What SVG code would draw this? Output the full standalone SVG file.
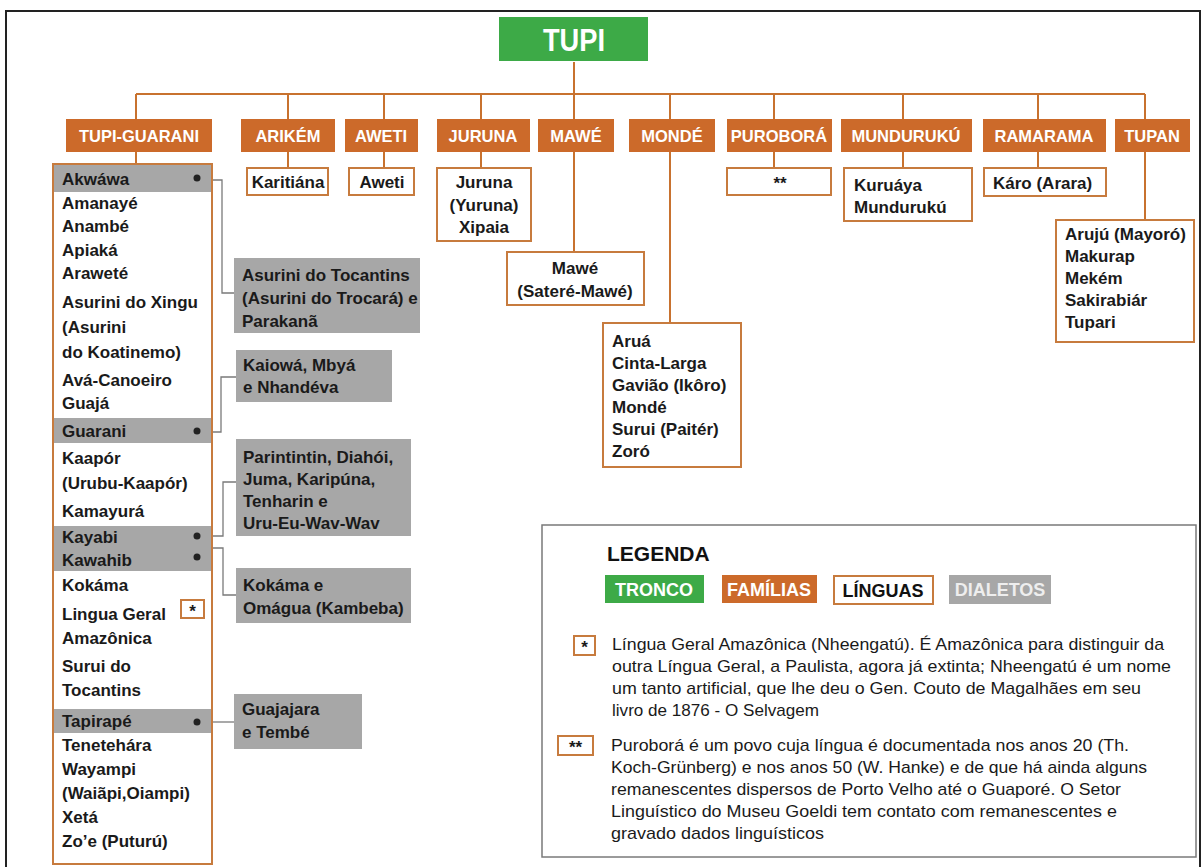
<svg xmlns="http://www.w3.org/2000/svg" width="1204" height="867" viewBox="0 0 1204 867">
<style>
text{font-family:"Liberation Sans",Arial,sans-serif;}
.fam rect{fill:#CC6A2A;}
.fam text{fill:#fff;font-weight:bold;font-size:16.5px;text-anchor:middle;}
.lang rect{fill:#fff;stroke:#C77B3E;stroke-width:2;}
.lang rect.row{fill:#A7A7A7;stroke:none;}
.t{font-weight:bold;font-size:17px;fill:#1a1a1a;}
.c{text-anchor:middle;}
.dia rect{fill:#A7A7A7;}
.dot{fill:#222;}
.conn line{stroke:#C8722F;stroke-width:2;fill:none;}
.dconn polyline{stroke:#7a7a7a;stroke-width:1.3;fill:none;}
.note{font-size:17px;fill:#1a1a1a;}
.leg{font-weight:bold;font-size:18px;text-anchor:middle;}
</style>
<rect x="6" y="11" width="1194" height="870" fill="#fff" stroke="#222" stroke-width="2"/>

<g id="connectors">
<g class="conn">
<line x1="574" y1="62" x2="574" y2="119"/>
<line x1="136" y1="94" x2="1145" y2="94"/>
<line x1="136" y1="94" x2="136" y2="119"/>
<line x1="288" y1="94" x2="288" y2="119"/>
<line x1="384" y1="94" x2="384" y2="119"/>
<line x1="481" y1="94" x2="481" y2="119"/>
<line x1="670" y1="94" x2="670" y2="119"/>
<line x1="774" y1="94" x2="774" y2="119"/>
<line x1="903" y1="94" x2="903" y2="119"/>
<line x1="1038" y1="94" x2="1038" y2="119"/>
<line x1="1145" y1="94" x2="1145" y2="119"/>
<line x1="136" y1="152" x2="136" y2="164"/>
<line x1="288" y1="152" x2="288" y2="168"/>
<line x1="384" y1="152" x2="384" y2="168"/>
<line x1="481" y1="152" x2="481" y2="168"/>
<line x1="574" y1="152" x2="574" y2="252"/>
<line x1="670" y1="152" x2="670" y2="323"/>
<line x1="774" y1="152" x2="774" y2="168"/>
<line x1="903" y1="152" x2="903" y2="168"/>
<line x1="1038" y1="152" x2="1038" y2="168"/>
<line x1="1145" y1="152" x2="1145" y2="220"/>
</g>
<g class="dconn">
<polyline points="212,180 222,180 222,293 234,293"/>
<polyline points="212,432 221,432 221,377 236,377"/>
<polyline points="212,536 223,536 223,482 236,482"/>
<polyline points="212,548 223,548 223,595 236,595"/>
<polyline points="212,722 234,722"/>
</g>
</g>

<g id="tupi">
<rect x="499" y="17" width="149" height="44" fill="#3DAA47"/>
<text x="574" y="51" fill="#fff" font-weight="bold" font-size="31" text-anchor="middle" textLength="62" lengthAdjust="spacingAndGlyphs">TUPI</text>
</g>

<g id="fam-tupi-guarani" class="fam"><rect x="66" y="119" width="146" height="33"/><text x="139" y="142">TUPI-GUARANI</text></g>
<g id="fam-arikem" class="fam"><rect x="241" y="119" width="94" height="33"/><text x="288" y="142">ARIKÉM</text></g>
<g id="fam-aweti" class="fam"><rect x="345" y="119" width="73" height="33"/><text x="381" y="142">AWETI</text></g>
<g id="fam-juruna" class="fam"><rect x="437" y="119" width="93" height="33"/><text x="483" y="142">JURUNA</text></g>
<g id="fam-mawe" class="fam"><rect x="538" y="119" width="76" height="33"/><text x="576" y="142">MAWÉ</text></g>
<g id="fam-monde" class="fam"><rect x="629" y="119" width="86" height="33"/><text x="672" y="142">MONDÉ</text></g>
<g id="fam-purobora" class="fam"><rect x="727" y="119" width="105" height="33"/><text x="779" y="142">PUROBORÁ</text></g>
<g id="fam-munduruku" class="fam"><rect x="841" y="119" width="131" height="33"/><text x="906" y="142">MUNDURUKÚ</text></g>
<g id="fam-ramarama" class="fam"><rect x="983" y="119" width="123" height="33"/><text x="1044" y="142">RAMARAMA</text></g>
<g id="fam-tupan" class="fam"><rect x="1115" y="119" width="75" height="33"/><text x="1152" y="142">TUPAN</text></g>

<g id="lang-karitiana" class="lang"><rect x="247" y="168" width="81" height="27"/><text class="t c" x="288" y="188">Karitiána</text></g>
<g id="lang-aweti" class="lang"><rect x="349" y="168" width="65" height="27"/><text class="t c" x="382" y="188">Aweti</text></g>
<g id="lang-juruna" class="lang"><rect x="437" y="168" width="94" height="73"/>
<text class="t c" x="484" y="188">Juruna</text><text class="t c" x="484" y="211">(Yuruna)</text><text class="t c" x="484" y="233">Xipaia</text></g>
<g id="lang-mawe" class="lang"><rect x="507" y="252" width="137" height="53"/>
<text class="t c" x="575" y="274">Mawé</text><text class="t c" x="575" y="297">(Sateré-Mawé)</text></g>
<g id="lang-monde" class="lang"><rect x="603" y="323" width="138" height="144"/>
<text class="t" x="612" y="347">Aruá</text><text class="t" x="612" y="369">Cinta-Larga</text><text class="t" x="612" y="391">Gavião (Ikôro)</text><text class="t" x="612" y="413">Mondé</text><text class="t" x="612" y="435">Surui (Paitér)</text><text class="t" x="612" y="457">Zoró</text></g>
<g id="lang-purobora" class="lang"><rect x="727" y="168" width="104" height="27"/><text class="t c" x="780" y="189">**</text></g>
<g id="lang-munduruku" class="lang"><rect x="844" y="168" width="128" height="53"/>
<text class="t" x="854" y="191">Kuruáya</text><text class="t" x="854" y="213">Mundurukú</text></g>
<g id="lang-ramarama" class="lang"><rect x="984" y="168" width="122" height="28"/><text class="t" x="993" y="189">Káro (Arara)</text></g>
<g id="lang-tupan" class="lang"><rect x="1056" y="220" width="138" height="122"/>
<text class="t" x="1065" y="240">Arujú (Mayoró)</text><text class="t" x="1065" y="262">Makurap</text><text class="t" x="1065" y="284">Mekém</text><text class="t" x="1065" y="306">Sakirabiár</text><text class="t" x="1065" y="328">Tupari</text></g>

<g id="lang-tupi-guarani" class="lang">
<rect x="53" y="164" width="159" height="700"/>
<rect class="row" x="54" y="165" width="157" height="27"/>
<rect class="row" x="54" y="418" width="157" height="25"/>
<rect class="row" x="54" y="526" width="157" height="45"/>
<rect class="row" x="54" y="709" width="157" height="24"/>
<circle class="dot" cx="197" cy="178" r="3.5"/>
<circle class="dot" cx="197" cy="431" r="3.5"/>
<circle class="dot" cx="197" cy="536" r="3.5"/>
<circle class="dot" cx="197" cy="557" r="3.5"/>
<circle class="dot" cx="197" cy="722" r="3.5"/>
<rect x="181" y="600" width="23" height="18"/>
<text class="t c" x="192.5" y="617">*</text>
<text class="t" x="62" y="185">Akwáwa</text>
<text class="t" x="62" y="209">Amanayé</text>
<text class="t" x="62" y="232">Anambé</text>
<text class="t" x="62" y="256">Apiaká</text>
<text class="t" x="62" y="279">Araweté</text>
<text class="t" x="62" y="308">Asurini do Xingu</text>
<text class="t" x="62" y="333">(Asurini</text>
<text class="t" x="62" y="358">do Koatinemo)</text>
<text class="t" x="62" y="386">Avá-Canoeiro</text>
<text class="t" x="62" y="409">Guajá</text>
<text class="t" x="62" y="437">Guarani</text>
<text class="t" x="62" y="464">Kaapór</text>
<text class="t" x="62" y="489">(Urubu-Kaapór)</text>
<text class="t" x="62" y="517">Kamayurá</text>
<text class="t" x="62" y="543">Kayabi</text>
<text class="t" x="62" y="566">Kawahib</text>
<text class="t" x="62" y="591">Kokáma</text>
<text class="t" x="62" y="620">Lingua Geral</text>
<text class="t" x="62" y="644">Amazônica</text>
<text class="t" x="62" y="672">Surui do</text>
<text class="t" x="62" y="696">Tocantins</text>
<text class="t" x="62" y="727">Tapirapé</text>
<text class="t" x="62" y="751">Tenetehára</text>
<text class="t" x="62" y="775">Wayampi</text>
<text class="t" x="62" y="799">(Waiãpi,Oiampi)</text>
<text class="t" x="62" y="823">Xetá</text>
<text class="t" x="62" y="847">Zo’e (Puturú)</text>
</g>

<g id="dia-asurini" class="dia"><rect x="234" y="258" width="186" height="75"/>
<text class="t" x="242" y="281">Asurini do Tocantins</text><text class="t" x="242" y="304">(Asurini do Trocará) e</text><text class="t" x="242" y="327">Parakanã</text></g>
<g id="dia-kaiowa" class="dia"><rect x="236" y="350" width="156" height="52"/>
<text class="t" x="243" y="371">Kaiowá, Mbyá</text><text class="t" x="243" y="393">e Nhandéva</text></g>
<g id="dia-parintintin" class="dia"><rect x="236" y="439" width="175" height="97"/>
<text class="t" x="243" y="463">Parintintin, Diahói,</text><text class="t" x="243" y="485">Juma, Karipúna,</text><text class="t" x="243" y="507">Tenharin e</text><text class="t" x="243" y="529">Uru-Eu-Wav-Wav</text></g>
<g id="dia-kokama" class="dia"><rect x="236" y="568" width="175" height="55"/>
<text class="t" x="243" y="591">Kokáma e</text><text class="t" x="243" y="614">Omágua (Kambeba)</text></g>
<g id="dia-guajajara" class="dia"><rect x="234" y="694" width="128" height="55"/>
<text class="t" x="242" y="715">Guajajara</text><text class="t" x="242" y="738">e Tembé</text></g>

<g id="legend">
<rect x="542" y="525" width="654" height="332" fill="#fff" stroke="#7a7a7a" stroke-width="1.5"/>
<text x="607" y="561" font-weight="bold" font-size="21" fill="#111">LEGENDA</text>
<rect x="605" y="575" width="99" height="28" fill="#3DAA47"/>
<text class="leg" x="654" y="596" fill="#fff">TRONCO</text>
<rect x="722" y="575" width="95" height="28" fill="#CC6A2A"/>
<text class="leg" x="769" y="596" fill="#fff">FAMÍLIAS</text>
<rect x="834" y="576" width="99" height="28" fill="#fff" stroke="#C77B3E" stroke-width="2"/>
<text class="leg" x="883" y="597" fill="#111">LÍNGUAS</text>
<rect x="949" y="575" width="102" height="29" fill="#A7A7A7"/>
<text class="leg" x="1000" y="596" fill="#eee">DIALETOS</text>
<rect x="574" y="636" width="21" height="19" fill="#fff" stroke="#C77B3E" stroke-width="2"/>
<text class="t c" x="584.5" y="653">*</text>
<text class="note" x="612" y="650" textLength="552" lengthAdjust="spacingAndGlyphs">Língua Geral Amazônica (Nheengatú). É Amazônica para distinguir da</text>
<text class="note" x="612" y="672" textLength="559" lengthAdjust="spacingAndGlyphs">outra Língua Geral, a Paulista, agora já extinta; Nheengatú é um nome</text>
<text class="note" x="612" y="694" textLength="529" lengthAdjust="spacingAndGlyphs">um tanto artificial, que lhe deu o Gen. Couto de Magalhães em seu</text>
<text class="note" x="612" y="716" textLength="207" lengthAdjust="spacingAndGlyphs">livro de 1876 - O Selvagem</text>
<rect x="558" y="736" width="35" height="19" fill="#fff" stroke="#C77B3E" stroke-width="2"/>
<text class="t c" x="575.5" y="753">**</text>
<text class="note" x="611" y="751" textLength="518" lengthAdjust="spacingAndGlyphs">Puroborá é um povo cuja língua é documentada nos anos 20 (Th.</text>
<text class="note" x="611" y="773" textLength="536" lengthAdjust="spacingAndGlyphs">Koch-Grünberg) e nos anos 50 (W. Hanke) e de que há ainda alguns</text>
<text class="note" x="611" y="795" textLength="510" lengthAdjust="spacingAndGlyphs">remanescentes dispersos de Porto Velho até o Guaporé. O Setor</text>
<text class="note" x="611" y="817" textLength="506" lengthAdjust="spacingAndGlyphs">Linguístico do Museu Goeldi tem contato com remanescentes e</text>
<text class="note" x="611" y="839" textLength="213" lengthAdjust="spacingAndGlyphs">gravado dados linguísticos</text>
</g>
</svg>
